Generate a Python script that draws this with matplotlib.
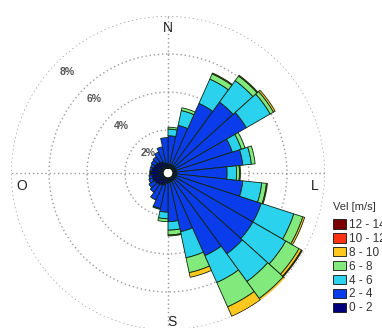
import matplotlib
matplotlib.use('Agg')
import matplotlib.pyplot as plt
import numpy as np
from matplotlib.patches import Patch

plt.rcParams['font.family'] = ['Liberation Sans', 'DejaVu Sans']

# sector centres (compass degrees, clockwise from N)
directions = [6, 18, 30, 42, 54, 66, 78, 90, 102, 114, 126, 138, 150, 162, 174,
              186, 198, 210, 222, 234, 246, 258, 270, 282, 294, 306, 318, 330, 342, 354]

# frequency (%) per speed class and sector
v0_2 = [0.2, 0.2, 0.2, 0.2, 0.2, 0.2, 0.2, 0.2, 0.2, 0.2, 0.2, 0.2, 0.2, 0.2, 0.25,
        0.3, 0.4, 0.45, 0.5, 0.55, 0.6, 0.6, 0.65, 0.6, 0.55, 0.5, 0.45, 0.4, 0.3, 0.25]
v2_4 = [1.5, 2.1, 3.55, 4.15, 4.3, 3.1, 3.5, 2.65, 3.5, 4.7, 4.7, 4.8, 4.3, 2.7, 2.05,
        1.5, 1.25, 0.85, 0.5, 0.35, 0.2, 0.15, 0.05, 0.1, 0.15, 0.25, 0.35, 0.55, 0.85, 1.35]
v4_6 = [0.35, 0.8, 1.4, 1.4, 1.45, 0.5, 0.45, 0.5, 1.0, 1.8, 2.0, 1.8, 1.55, 1.4, 0.45,
        0.35, 0.05, 0, 0, 0, 0, 0, 0, 0, 0, 0, 0, 0, 0, 0]
v6_8 = [0.1, 0.15, 0.3, 0.3, 0.2, 0.2, 0.2, 0.15, 0.25, 0.5, 0.8, 1.1, 1.4, 0.8, 0.25,
        0.15, 0, 0, 0, 0, 0, 0, 0, 0, 0, 0, 0, 0, 0, 0]
v8_10 = [0, 0, 0.05, 0.05, 0.1, 0, 0, 0.05, 0.05, 0.1, 0.15, 0.15, 0.55, 0.25, 0.05,
         0, 0, 0, 0, 0, 0, 0, 0, 0, 0, 0, 0, 0, 0, 0]
v10_12 = [0, 0, 0, 0, 0, 0, 0, 0, 0, 0, 0.05, 0.1, 0.05, 0, 0,
          0, 0, 0, 0, 0, 0, 0, 0, 0, 0, 0, 0, 0, 0, 0]
v12_14 = [0] * 30

classes = [v0_2, v2_4, v4_6, v6_8, v8_10, v10_12, v12_14]
class_labels = ['0 - 2', '2 - 4', '4 - 6', '6 - 8', '8 - 10', '10 - 12', '12 - 14']
colors = ['#00007a', '#0a3cec', '#2ad2ee', '#82ea7c', '#ffc81e', '#ff3214', '#7a0000']

rings = [2, 4, 6, 8]
ring_labels = ['2%', '4%', '6%', '8%']

fig = plt.figure(figsize=(3.82, 3.28), dpi=100)
ax = fig.add_axes([11 / 382, -2 / 328, 314 / 382, 314 / 328], projection='polar')
ax.set_theta_zero_location('N')
ax.set_theta_direction(-1)

theta = np.deg2rad(directions)
width = np.deg2rad(12)
bottom = np.zeros(len(directions))
for vals, col in zip(classes, colors):
    vals = np.array(vals, dtype=float)
    m = vals > 0
    if m.any():
        ax.bar(theta[m], vals[m], width=width, bottom=bottom[m], color=col,
               edgecolor='#0e240e', linewidth=0.6, zorder=3)
    bottom += vals

ax.set_ylim(0, 8)
ax.set_rorigin(-0.26)
ax.set_rgrids(rings, labels=[''] * 4)
ax.set_thetagrids([0, 90, 180, 270], labels=[''] * 4)
ax.grid(True, color='#9a9a9a', linestyle=(0, (1, 2)), linewidth=1.0)
ax.spines['polar'].set_visible(False)

for r, lab in zip(rings, ring_labels):
    ax.text(np.deg2rad(315), r - 0.78, lab, fontsize=7.5, color='#555555',
            fontweight='bold', ha='center', va='center', zorder=5)

for lab, (x, y) in zip(['N', 'O', 'L', 'S'], [(168, 28), (22, 186), (315, 186), (172, 322)]):
    fig.text(x / 382, 1 - y / 328, lab, fontsize=10, color='#222222',
             ha='center', va='center')

# legend (title drawn separately to get the gap of the original)
fig.text(333 / 382, 1 - 207 / 328, 'Vel [m/s]', fontsize=8, color='#333333',
         ha='left', va='center')
handles = [Patch(facecolor=c, edgecolor='#111111', linewidth=0.6) for c in colors[::-1]]
leg = fig.legend(handles, class_labels[::-1], loc='upper left',
                 bbox_to_anchor=(333 / 382, 1 - 219 / 328), frameon=False,
                 fontsize=8.5, handlelength=1.1, handleheight=0.85,
                 labelspacing=0.16, handletextpad=0.25, borderaxespad=0, borderpad=0)
for t in leg.get_texts():
    t.set_color('#333333')

fig.savefig('out.png', dpi=100)
